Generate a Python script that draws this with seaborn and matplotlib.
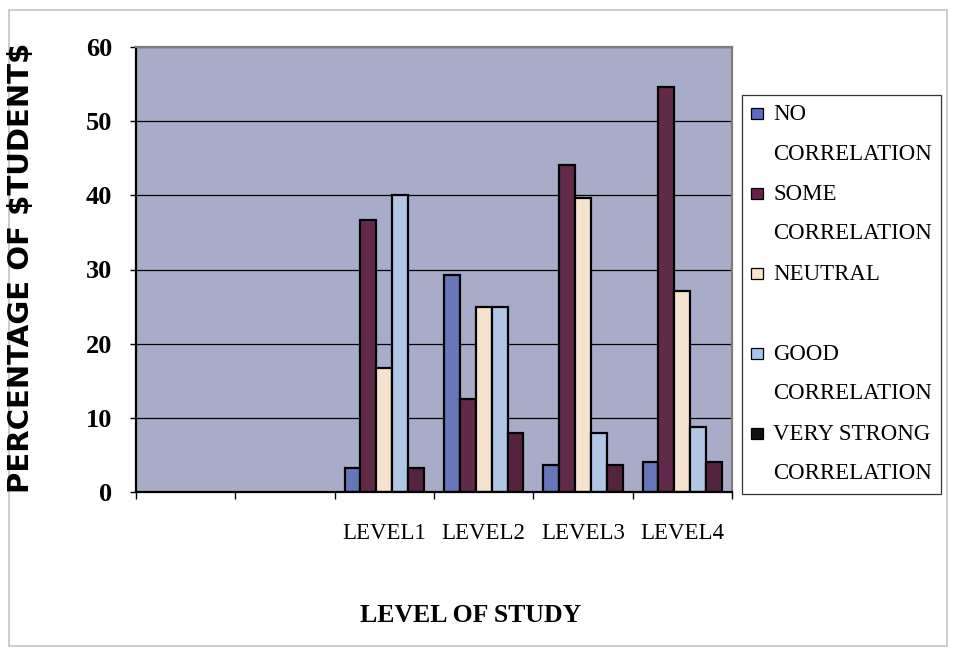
import matplotlib
matplotlib.use("Agg")
import matplotlib.pyplot as plt
import seaborn as sns
import pandas as pd
from matplotlib.patches import Rectangle
from matplotlib.legend_handler import HandlerBase

# Category axis: two empty leading slots, then the four study levels
levels = ["LEVEL1", "LEVEL2", "LEVEL3", "LEVEL4"]
slots = ["", " "] + levels

series = [
    "NO\nCORRELATION",
    "SOME\nCORRELATION",
    "NEUTRAL\n ",
    "GOOD\nCORRELATION",
    "VERY STRONG\nCORRELATION",
]

# Percentage of students per level for each response
no_corr = [3.3, 29.2, 3.7, 4.1]
some_corr = [36.7, 12.5, 44.1, 54.6]
neutral = [16.7, 25.0, 39.7, 27.1]
good_corr = [40.0, 25.0, 7.9, 8.8]
very_strong = [3.3, 8.0, 3.6, 4.0]

bar_colors = ["#5a6cc6", "#6b1f4a", "#fbe3c9", "#a8c4ee", "#5e1b3f"]
legend_colors = ["#5a6cc6", "#6b1f4a", "#fbe3c9", "#a8c4ee", "#111111"]

values = [no_corr, some_corr, neutral, good_corr, very_strong]
rows = []
for name, vals in zip(series, values):
    for lvl, v in zip(levels, vals):
        rows.append({"level": lvl, "response": name, "pct": v})
df = pd.DataFrame(rows)

sns.set_theme(style="white")
plt.rcParams["font.family"] = ["Liberation Serif", "DejaVu Serif"]
plt.rcParams["text.color"] = "black"
plt.rcParams["xtick.color"] = "black"
plt.rcParams["ytick.color"] = "black"

fig = plt.figure(figsize=(9.55, 6.52), dpi=100)
fig.patch.set_facecolor("white")
ax = fig.add_axes([136 / 955, 1 - 492 / 652, (732 - 136) / 955, (492 - 47) / 652])
ax.set_facecolor("#a9acc9")

sns.barplot(
    data=df, x="level", y="pct", hue="response",
    order=slots, hue_order=series, palette=bar_colors,
    width=0.8, edgecolor="black", linewidth=1.6, ax=ax,
)

ax.set_ylim(0, 60)
ax.set_xlim(-0.5, len(slots) - 0.5)
ax.set_yticks(range(0, 61, 10))
ax.yaxis.grid(True, color="black", linewidth=0.9)
ax.xaxis.grid(False)
ax.set_axisbelow(True)
ax.set_xlabel("")
ax.set_ylabel("")

for lab in ax.get_yticklabels():
    lab.set_fontweight("bold")
    lab.set_fontsize(19)
ax.tick_params(axis="y", length=4, width=1, color="black", pad=13, left=True)
ax.tick_params(axis="x", which="major", length=0, pad=22, labelsize=16.5)
ax.set_xticks([i - 0.5 for i in range(len(slots) + 1)], minor=True)
ax.tick_params(axis="x", which="minor", length=5, width=1, color="black", bottom=True)

for side in ("left", "bottom"):
    ax.spines[side].set_color("black")
    ax.spines[side].set_linewidth(1.6)
for side in ("top", "right"):
    ax.spines[side].set_color("#7d7d7d")
    ax.spines[side].set_linewidth(1.6)

LINESPACING = 2.17


class FirstLineSquare(HandlerBase):
    """Square swatch aligned with the first line of a two-line label."""

    def create_artists(self, legend, orig_handle, xdescent, ydescent,
                       width, height, fontsize, trans):
        side = 0.5 * fontsize
        lift = 0.5 * LINESPACING * 0.74 * fontsize + 0.1 * fontsize
        y = -ydescent + height / 2 - side / 2 + lift
        r = Rectangle((-xdescent, y), side, side,
                      facecolor=orig_handle.get_facecolor(),
                      edgecolor="black", linewidth=0.9, transform=trans)
        return [r]


handles = [Rectangle((0, 0), 1, 1, facecolor=c) for c in legend_colors]
leg = ax.legend(
    handles, series, handler_map={Rectangle: FirstLineSquare()},
    loc="upper left", bbox_to_anchor=(1.017, 0.893), borderaxespad=0,
    fontsize=16.5, frameon=True, fancybox=False, edgecolor="black",
    handlelength=0.5, handleheight=0.7, handletextpad=0.45,
    borderpad=0.4, labelspacing=0.84,
)
leg.get_frame().set_linewidth(0.9)
for t in leg.get_texts():
    t.set_linespacing(LINESPACING)

fig.text(21 / 955, 1 - 268 / 652, "PERCENTAGE OF $TUDENT$", rotation=90,
         ha="center", va="center", fontsize=21, fontweight="bold",
         family=["DejaVu Sans"], parse_math=False)
fig.text(471 / 955, 1 - 615 / 652, "LEVEL OF STUDY", ha="center", va="center",
         fontsize=18.5, fontweight="bold")

# Light outer frame round the whole chart
fig.add_artist(Rectangle((9 / 955, 1 - 646 / 652), (947 - 9) / 955, (646 - 10) / 652,
                         transform=fig.transFigure, fill=False,
                         edgecolor="#c4c4c4", linewidth=1.2))

fig.savefig("out.png", dpi=100)
